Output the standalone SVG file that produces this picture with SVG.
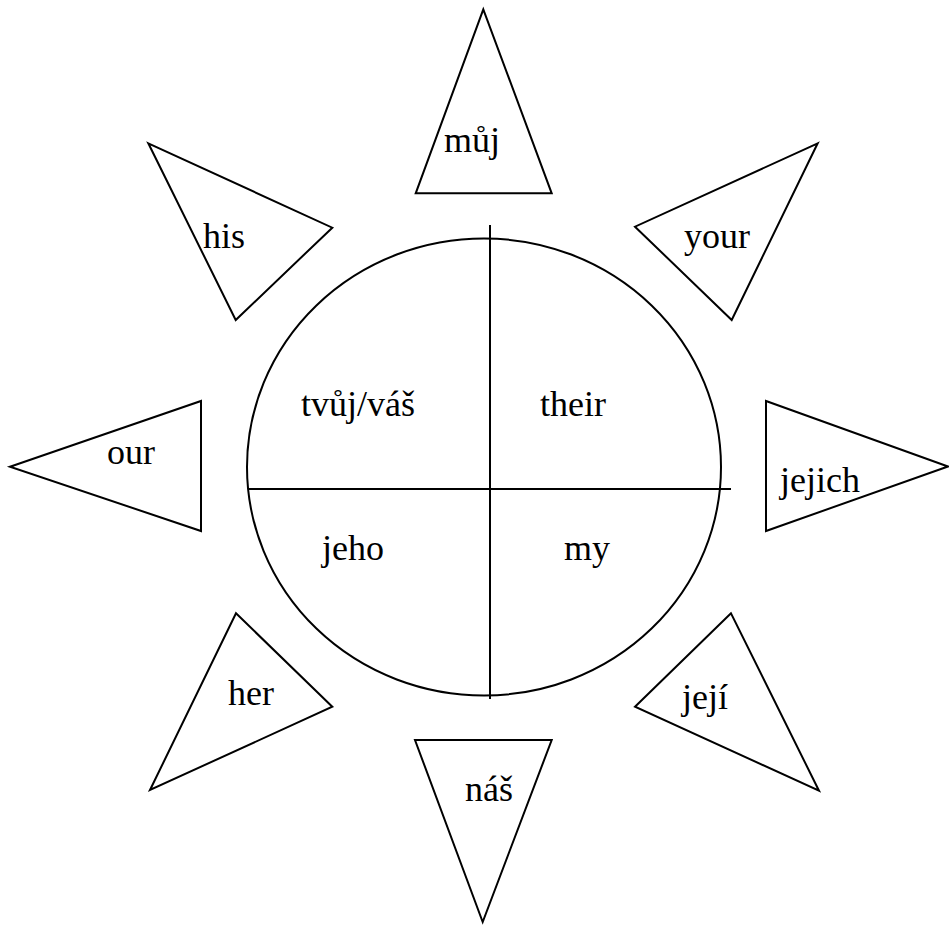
<svg xmlns="http://www.w3.org/2000/svg" width="949" height="925" viewBox="0 0 949 925">
<style>
.tri{fill:#fff;stroke:#000;stroke-width:2;stroke-linejoin:miter}
.ln{stroke:#000;stroke-width:2;fill:none}
text{font-family:"Liberation Serif","Times New Roman",serif;font-size:36px;fill:#000}
</style>
<rect width="949" height="925" fill="#fff"/>
<g id="center">
<ellipse class="ln" cx="484" cy="467" rx="237" ry="228.5"/>
</g>
<g id="connectors">
<line class="ln" x1="249" y1="489" x2="731" y2="489"/>
<line class="ln" x1="490" y1="225" x2="490" y2="699"/>
</g>
<g id="q-tvuj"><text x="301" y="416">tvůj/váš</text></g>
<g id="q-their"><text x="540" y="416">their</text></g>
<g id="q-jeho"><text x="322" y="560">jeho</text></g>
<g id="q-my"><text x="564" y="560">my</text></g>
<g id="ray-muj"><polygon class="tri" points="483.3,9.3 415.7,193.3 551.7,193.3"/><text x="444" y="152">můj</text></g>
<g id="ray-your"><polygon class="tri" points="817.7,143.3 635,226.7 731.7,320"/><text x="684" y="248">your</text></g>
<g id="ray-jejich"><polygon class="tri" points="766,401 766,531 948,466.5"/><text x="780" y="492">jejich</text></g>
<g id="ray-jeji"><polygon class="tri" points="731,613.3 635,706.7 819,790.7"/><text x="682" y="709">její</text></g>
<g id="ray-nas"><polygon class="tri" points="415,740 551.7,740 482.7,922"/><text x="465" y="801">náš</text></g>
<g id="ray-her"><polygon class="tri" points="236,613.3 332.3,706.7 150,790"/><text x="228" y="705">her</text></g>
<g id="ray-our"><polygon class="tri" points="10,466.7 201,401 201,531"/><text x="107" y="464">our</text></g>
<g id="ray-his"><polygon class="tri" points="148.3,143.3 332.3,227.7 235.7,320"/><text x="203" y="248">his</text></g>
</svg>
